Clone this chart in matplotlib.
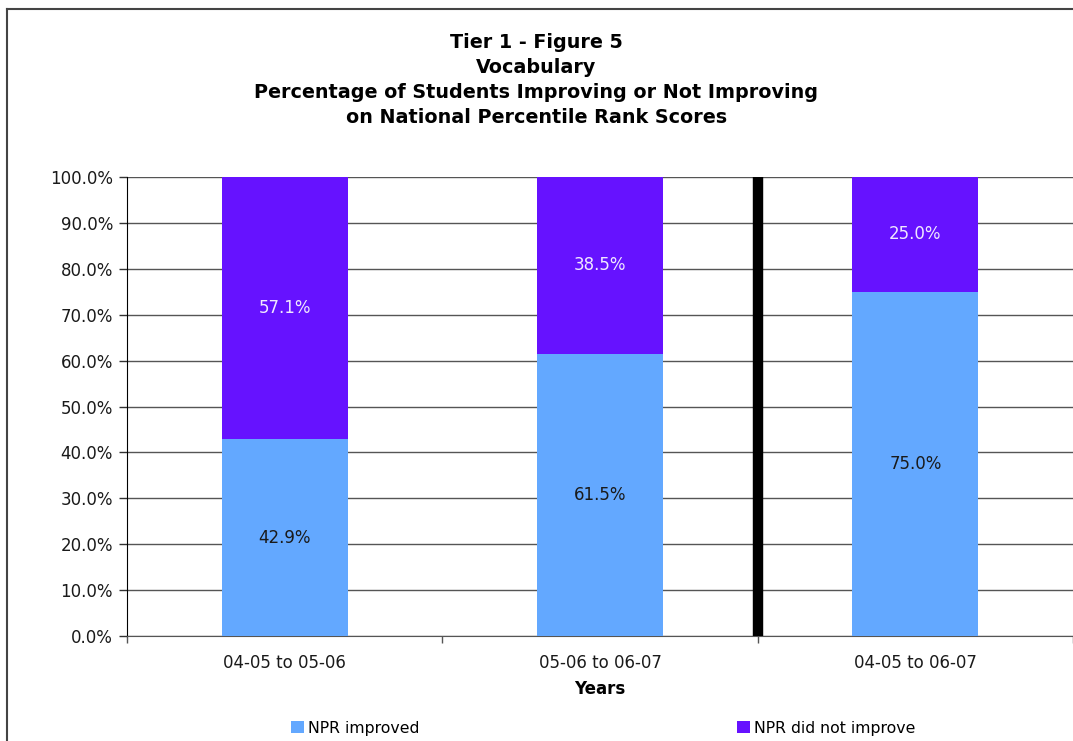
import matplotlib
matplotlib.use("Agg")
import matplotlib.pyplot as plt
from matplotlib.patches import Patch
from matplotlib.lines import Line2D
import numpy as np

categories = ["04-05 to 05-06", "05-06 to 06-07", "04-05 to 06-07"]
improved = [42.9, 61.5, 75.0]
not_improved = [57.1, 38.5, 25.0]
series_names = ["NPR improved", "NPR did not improve"]
title_lines = ["Tier 1 - Figure 5", "Vocabulary",
               "Percentage of Students Improving or Not Improving",
               "on National Percentile Rank Scores"]
yticks = [0, 10, 20, 30, 40, 50, 60, 70, 80, 90, 100]

c_imp = "#63A8FF"
c_not = "#6612FF"

plt.rcParams['font.family'] = ['DejaVu Sans']

W, H = 1073, 741
fig = plt.figure(figsize=(W / 100, H / 100), dpi=100)
fig.patch.set_facecolor("white")

# figure border (left and top visible)
fig.add_artist(Line2D([7 / W, 7 / W], [-0.01, 1 - 8.5 / H], transform=fig.transFigure,
                      color="#444444", lw=1.5))
fig.add_artist(Line2D([7 / W, 1.01], [1 - 8.5 / H, 1 - 8.5 / H], transform=fig.transFigure,
                      color="#444444", lw=1.5))

ax = fig.add_axes([127 / W, (H - 636) / H, (1073 - 127) / W, (636 - 177) / H])
x = np.arange(len(categories))
bw = 0.4
ax.bar(x, improved, bw, color=c_imp, zorder=3, label=series_names[0])
ax.bar(x, not_improved, bw, bottom=improved, color=c_not, zorder=3, label=series_names[1])

for i in range(len(categories)):
    ax.text(x[i], improved[i] / 2, f"{improved[i]:.1f}%", ha="center", va="center",
            fontsize=12, color="#1a1a1a", zorder=4)
    ax.text(x[i], improved[i] + not_improved[i] / 2, f"{not_improved[i]:.1f}%",
            ha="center", va="center", fontsize=12, color="#F0E8FF", zorder=4)

ax.set_xlim(-0.5, 2.5)
ax.set_ylim(0, 100)
ax.set_yticks(yticks)
ax.set_yticklabels([f"{v:.1f}%" for v in yticks], fontsize=12, color="#1a1a1a")
ax.yaxis.grid(True, color="#555555", lw=1, zorder=1)
ax.tick_params(axis="y", length=6, width=1, pad=4, color="#333333")

ax.set_xticks(x)
ax.set_xticklabels(categories, fontsize=12, color="#1a1a1a")
ax.tick_params(axis="x", which="major", length=0, pad=13)
ax.set_xticks([-0.5, 0.5, 1.5, 2.5], minor=True)
ax.tick_params(axis="x", which="minor", length=5, width=1, color="#555555")
ax.set_xlabel("Years", fontsize=12, fontweight="bold", labelpad=6)

ax.axvline(1.5, color="black", lw=7.5, zorder=5)

for s in ["top", "right"]:
    ax.spines[s].set_visible(False)
ax.spines["left"].set_color("black")
ax.spines["bottom"].set_color("#555555")

fig.text(0.5, 1 - 80 / H, "\n".join(title_lines), ha="center", va="center",
         fontsize=13.8, fontweight="bold", linespacing=1.38)

h1 = Patch(facecolor=c_imp, edgecolor="none")
h2 = Patch(facecolor=c_not, edgecolor="none")
for h, name, xpos in [(h1, series_names[0], 291), (h2, series_names[1], 737)]:
    fig.legend([h], [name], loc="center left", bbox_to_anchor=(xpos / W, 1 - 728 / H),
               frameon=False, fontsize=11.3, handlelength=0.85, handleheight=0.85,
               handletextpad=0.25, borderpad=0, borderaxespad=0)

fig.savefig("out.png", dpi=100)
